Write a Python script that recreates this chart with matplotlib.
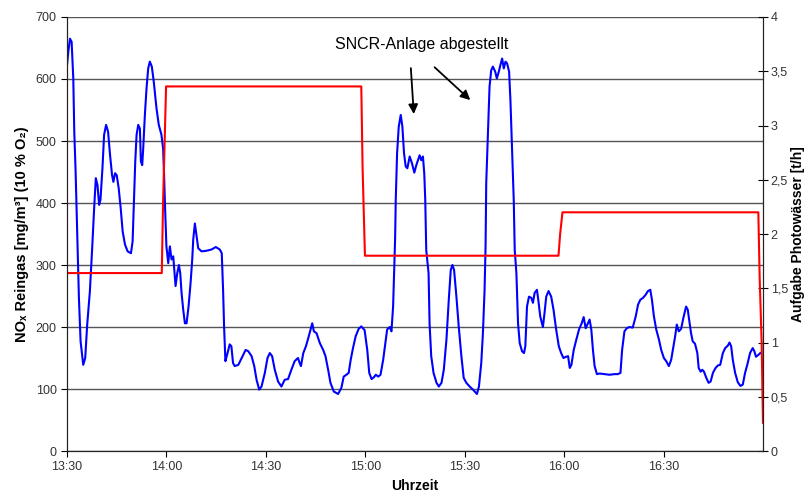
import matplotlib.pyplot as plt
from matplotlib.ticker import FixedLocator

plt.rcParams['font.family'] = ['Liberation Sans', 'DejaVu Sans']

# minutes after 13:30
nox_t = [0.0, 0.4, 0.9, 1.4, 1.9, 2.2, 2.6, 3.1, 3.6, 4.1, 4.9, 5.5, 6.1, 6.9, 7.6, 8.2, 8.7, 9.2, 9.7,
         10.1, 10.7, 11.2, 11.8, 12.4, 13.0, 13.6, 14.0, 14.5, 15.0, 15.6, 16.2, 16.8, 17.5, 18.3, 19.3,
         19.8, 20.2, 20.6, 21.0, 21.5, 22.0, 22.3, 22.7, 23.0, 23.5, 24.0, 24.5, 25.0, 25.6, 26.2, 27.0,
         27.7, 28.5, 29.0, 29.3, 29.6, 30.0, 30.55, 31.05, 31.55, 32.06, 32.76, 33.27, 33.77, 34.17,
         34.57, 35.07, 35.58, 36.08, 36.68, 37.29, 37.79, 38.09, 38.59, 39.6, 40.6, 42.1, 43.6, 44.9,
         46.1, 46.7, 47.1, 47.4, 47.8, 48.3, 49.1, 49.6, 50.1, 50.6, 51.7, 52.7, 53.9, 54.7, 55.7, 56.5,
         57.2, 58.0, 58.7, 59.7, 60.5, 61.2, 61.9, 62.7, 63.7, 64.7, 65.7, 66.7, 67.7, 68.7, 69.7, 70.2,
         70.6, 71.3, 72.1, 72.8, 73.5, 74.0, 74.5, 75.3, 76.3, 77.3, 78.0, 78.8, 79.5, 80.5, 81.8, 82.8,
         83.5, 84.3, 85.0, 85.6, 86.3, 87.1, 88.0, 88.8, 89.8, 90.6, 91.2, 91.9, 92.6, 93.2, 93.9, 94.6,
         95.4, 96.2, 96.6, 97.4, 97.9, 98.4, 98.7, 99.0, 99.2, 99.6, 100.1, 100.7, 101.2, 101.7, 102.2,
         102.7, 103.4, 104.1, 104.8, 105.4, 106.4, 106.9, 107.4, 107.8, 108.1, 108.4, 109.1, 109.4,
         109.9, 110.6, 111.5, 112.2, 113.0, 113.7, 114.5, 115.2, 115.8, 116.3, 116.8, 117.5, 118.2,
         119.0, 119.7, 120.5, 121.5, 122.5, 123.7, 124.3, 125.0, 125.5, 126.0, 126.3, 126.5, 127.0,
         127.5, 128.0, 128.5, 129.2, 129.7, 130.3, 130.8, 131.3, 131.8, 132.3, 132.8, 133.4, 133.8,
         134.3, 134.8, 135.1, 135.6, 136.1, 136.6, 137.3, 137.9, 138.3, 138.8, 139.4, 140.1, 140.6,
         141.1, 141.8, 142.2, 142.8, 143.6, 144.1, 144.6, 145.3, 146.1, 146.8, 147.6, 148.4, 149.1,
         149.8, 150.6, 151.2, 151.7, 152.2, 152.9, 153.7, 154.5, 155.3, 155.9, 156.5, 157.2, 157.7,
         158.2, 158.7, 159.2, 159.9, 160.7, 162.2, 163.7, 165.2, 166.2, 167.0, 167.5, 168.2, 168.9,
         169.7, 170.7, 171.6, 172.3, 173.0, 173.8, 174.6, 175.3, 176.0, 176.5, 177.1, 177.8, 178.6,
         179.3, 180.1, 180.8, 181.6, 182.3, 183.0, 183.5, 184.0, 184.6, 185.3, 186.0, 186.8, 187.3,
         187.8, 188.3, 188.8, 189.5, 190.2, 190.6, 191.2, 191.7, 192.2, 192.9, 193.6, 194.2, 194.9,
         195.7, 196.4, 197.1, 197.9, 198.6, 199.4, 199.9, 200.4, 200.9, 201.6, 202.4, 203.2, 203.9,
         204.6, 205.4, 206.1, 206.9, 207.4, 207.9, 208.6, 209.2]
nox = [622, 644, 665, 660, 601, 515, 451, 349, 247, 177, 139, 150, 204, 257, 327, 392, 440, 429, 397,
       405, 456, 510, 526, 515, 477, 445, 434, 448, 445, 424, 392, 354, 333, 322, 319,
       338, 402, 467, 510, 526, 520, 467, 461, 488, 542, 585, 617, 628, 620, 595, 553,
       526, 510, 488, 445, 392, 330, 303, 330, 309, 314, 266, 287, 300, 287,
       255, 228, 206, 206, 233, 271, 309, 341, 367, 327, 322, 323, 325, 329,
       325, 319, 260, 201, 145, 155, 172, 169, 142, 137, 139, 150, 163, 161, 153, 137,
       115, 99, 104, 126, 150, 158, 153, 131, 112, 104, 115, 116, 131, 145, 150, 142,
       137, 158, 169, 182, 196, 206, 193, 190, 174, 163, 153, 131, 110, 96, 92, 102,
       120, 123, 126, 147, 166, 185, 197, 201, 195, 163, 126, 116, 119, 123, 120, 123,
       147, 180, 196, 200, 193, 233, 287, 341, 405, 480, 523, 542, 523, 480, 459,
       456, 475, 464, 449, 461, 477, 469, 475, 448, 405, 324, 287, 206,
       153, 126, 110, 104, 110, 131, 180, 244, 292, 300, 292, 249, 201,
       153, 118, 110, 104, 99, 92, 104, 142, 190, 260, 330, 432, 512,
       588, 614, 620, 612, 601, 612, 623, 633, 617, 628, 625, 612, 566,
       486, 405, 324, 287, 206, 174, 161, 158, 169, 233, 249, 247, 239,
       255, 260, 244, 217, 200, 223, 249, 258, 249, 228, 196, 169, 158,
       150, 152, 153, 134, 139, 163, 180, 196, 206, 216, 198, 206, 212,
       196, 163, 137, 124, 125, 124, 123, 124, 124, 126, 163, 193, 198,
       200, 199, 217, 236, 244, 247, 252, 258, 260, 244, 217, 196, 180,
       163, 150, 145, 137, 147, 169, 185, 204, 193, 197, 215, 233, 228,
       209, 190, 177, 173, 158, 134, 128, 131, 128, 118, 110, 112, 126,
       134, 138, 139, 158, 166, 170, 175, 169, 147, 126, 111, 105, 107,
       126, 142, 158, 166, 161, 152, 155, 158]

water_t = [0, 28.6, 29.0, 29.9, 88.8, 89.2, 89.9, 148.3, 148.8, 149.5, 208.6, 209.0, 209.6, 210]
water = [1.64, 1.64, 2.3, 3.36, 3.36, 2.6, 1.80, 1.80, 2.0, 2.20, 2.20, 1.6, 1.0, 0.26]

x_ticks = [0, 30, 60, 90, 120, 150, 180]
x_labels = ['13:30', '14:00', '14:30', '15:00', '15:30', '16:00', '16:30']
right_ticks = [0, 0.5, 1, 1.5, 2, 2.5, 3, 3.5, 4]
right_labels = ['0', '0,5', '1', '1,5', '2', '2,5', '3', '3,5', '4']

fig = plt.figure(figsize=(8.09, 4.94), dpi=100)
ax = fig.add_axes([0.0828, 0.0870, 0.8603, 0.8786])
ax2 = ax.twinx()

ax.plot(nox_t, nox, color='#0000ff', lw=1.5)
ax2.plot(water_t, water, color='#ff0000', lw=1.5)

ax.set_xlim(0, 210)
ax.set_ylim(0, 700)
ax2.set_ylim(0, 4)

ax.set_xticks(x_ticks)
ax.set_xticklabels(x_labels)
ax.set_yticks(range(0, 701, 100))
ax.yaxis.grid(True, color='#555555', lw=1)
ax.set_axisbelow(True)
ax2.yaxis.set_major_locator(FixedLocator(right_ticks))
ax2.set_yticklabels(right_labels)

for a in (ax, ax2):
    a.spines['top'].set_visible(False)
    for s in a.spines.values():
        s.set_color('#222222')
ax.tick_params(axis='both', labelsize=9, labelcolor='#333333', length=4, direction='out')
ax2.tick_params(axis='y', labelsize=9, labelcolor='#333333', length=7, direction='inout', pad=2)

ax.set_xlabel('Uhrzeit', fontsize=10, fontweight='bold', labelpad=4)
ax.set_ylabel('NOₓ Reingas [mg/m³] (10 % O₂)', fontsize=10.5, fontweight='bold', labelpad=5)
ax2.set_ylabel('Aufgabe Photowässer [t/h]', fontsize=10, fontweight='bold', rotation=90, labelpad=2)

ax.text(107.0, 656, 'SNCR-Anlage abgestellt', fontsize=11.5, ha='center', va='center')
ax.annotate('', xy=(104.7, 539), xytext=(103.7, 622),
            arrowprops=dict(arrowstyle='-|>', color='black', lw=1.3, mutation_scale=14))
ax.annotate('', xy=(122.3, 563), xytext=(110.3, 622),
            arrowprops=dict(arrowstyle='-|>', color='black', lw=1.3, mutation_scale=14))

fig.savefig('out.png', dpi=100)
